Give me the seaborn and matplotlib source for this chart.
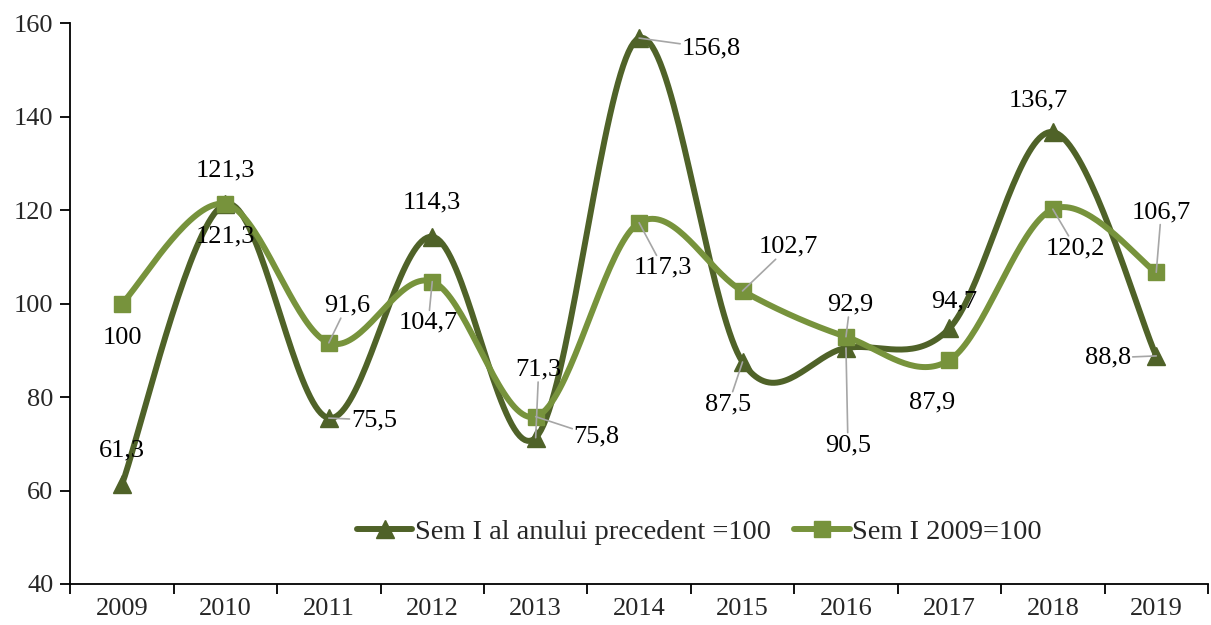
import numpy as np
import pandas as pd
import seaborn as sns
import matplotlib.pyplot as plt
from matplotlib.lines import Line2D

# chart data
years = ['2009', '2010', '2011', '2012', '2013', '2014', '2015', '2016', '2017', '2018', '2019']
prev_year = [61.3, 121.3, 75.5, 114.3, 71.3, 156.8, 87.5, 90.5, 94.7, 136.7, 88.8]
base_2009 = [100, 121.3, 91.6, 104.7, 75.8, 117.3, 102.7, 92.9, 87.9, 120.2, 106.7]
name_prev = 'Sem I al anului precedent =100'
name_base = 'Sem I 2009=100'

# label offsets in pixels (dx, dy; dy positive = up) and leader line flags
off_prev = [(0, 34), (0, -32), (45, -2), (0, 34), (3, 68), (72, -10), (-14, -42), (2, -97), (5, 27), (-15, 32), (-48, -2)]
lead_prev = [0, 0, 1, 0, 1, 1, 1, 1, 0, 0, 1]
off_base = [(0, -34), (0, 34), (18, 37), (-4, -41), (61, -20), (24, -45), (46, 44), (4, 32), (-17, -42), (23, -39), (5, 60)]
lead_base = [0, 0, 1, 1, 1, 1, 1, 1, 0, 1, 1]

dark = '#4F6228'
light = '#77933C'


def smooth(y, n=40):
    # Catmull-Rom style curve like Excel's smoothed line
    y = np.asarray(y, dtype=float)
    x = np.arange(len(y), dtype=float)
    px = np.concatenate([[x[0]], x, [x[-1]]])
    py = np.concatenate([[y[0]], y, [y[-1]]])
    xs, ys = [], []
    for i in range(1, len(px) - 2):
        p0, p1, p2, p3 = np.array([px[i-1], py[i-1]]), np.array([px[i], py[i]]), np.array([px[i+1], py[i+1]]), np.array([px[i+2], py[i+2]])
        c1 = p1 + (p2 - p0) / 6
        c2 = p2 - (p3 - p1) / 6
        t = np.linspace(0, 1, n)[:, None]
        b = (1-t)**3*p1 + 3*(1-t)**2*t*c1 + 3*(1-t)*t**2*c2 + t**3*p2
        xs.extend(b[:, 0]); ys.extend(b[:, 1])
    return np.array(xs), np.array(ys)


sns.set_style('white')
plt.rcParams['font.family'] = ['Liberation Serif', 'DejaVu Serif']
fs = 19

fig, ax = plt.subplots(figsize=(12.11, 6.25), dpi=100)
fig.subplots_adjust(left=0.058, right=0.9975, top=0.963, bottom=0.0656)

xi = np.arange(len(years))
for vals, col, mk, ms in [(prev_year, dark, '^', 13), (base_2009, light, 's', 11)]:
    sx, sy = smooth(vals)
    sns.lineplot(x=sx, y=sy, sort=False, color=col, linewidth=4.3, ax=ax, zorder=3)
    ax.plot(xi, vals, linestyle='none', marker=mk, markersize=ms, color=col, zorder=4)

for vals, offs, leads in [(prev_year, off_prev, lead_prev), (base_2009, off_base, lead_base)]:
    for i, v in enumerate(vals):
        txt = ('%g' % v).replace('.', ',')
        dx, dy = offs[i]
        kw = {}
        if leads[i]:
            kw['arrowprops'] = dict(arrowstyle='-', color='#a6a6a6', lw=1.2, shrinkA=0, shrinkB=0)
        ax.annotate(txt, (i, v), xytext=(dx, dy), textcoords='offset pixels',
                    ha='center', va='center', fontsize=fs, color='black', zorder=6,
                    bbox=dict(boxstyle='square,pad=0.05', fc='none', ec='none'), **kw)

ax.set_xlim(-0.5, len(years) - 0.5)
ax.set_ylim(40, 160)
ax.set_yticks(range(40, 161, 20))
ax.set_xticks(xi)
ax.set_xticklabels(years)
ax.set_xticks(np.arange(-0.5, len(years), 1), minor=True)
ax.tick_params(axis='x', which='major', length=0, labelsize=fs, pad=10)
ax.tick_params(axis='x', which='minor', length=7, width=1.3, color='black', direction='out', bottom=True)
ax.tick_params(axis='y', length=7, width=1.3, color='black', direction='out', left=True, labelsize=fs, pad=5)
sns.despine(ax=ax)
for s in ['left', 'bottom']:
    ax.spines[s].set_color('black')
    ax.spines[s].set_linewidth(1.3)

handles = [Line2D([], [], color=dark, lw=4.3, marker='^', markersize=13),
           Line2D([], [], color=light, lw=4.3, marker='s', markersize=11)]
ax.legend(handles, [name_prev, name_base], loc='center', bbox_to_anchor=(0.553, 0.093),
          ncol=2, frameon=False, fontsize=20.5, handlelength=1.95, handletextpad=0.1, columnspacing=0.8)

fig.savefig('out.png', dpi=100)
